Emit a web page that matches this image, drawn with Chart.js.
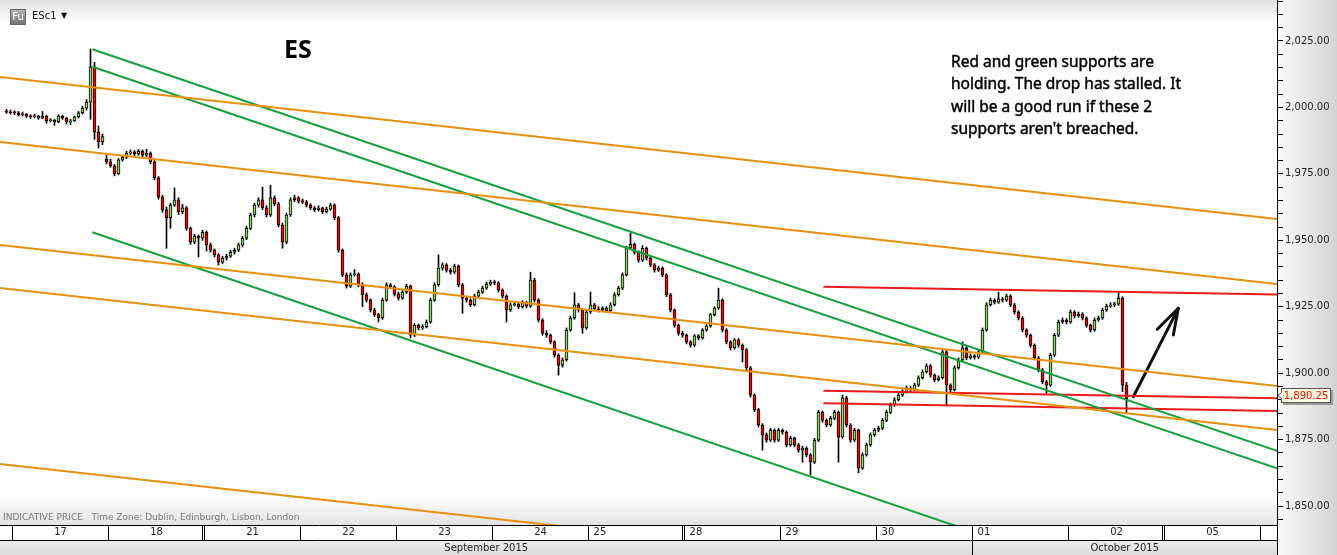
<!DOCTYPE html>
<html><head><meta charset="utf-8">
<script src="https://cdn.jsdelivr.net/npm/chart.js@4.4.0/dist/chart.umd.min.js"></script>
<style>html,body{margin:0;padding:0;background:#fff;overflow:hidden}canvas{display:block}</style>
</head><body>
<canvas id="c" width="1337" height="555" style="width:1337px;height:555px"></canvas>
<script>
// ---------- axis labels ----------
const dayLabels = ['17','18','21','22','23','24','25','28','29','30','01','02','05'];
const leftAlignedDays = ['25','28','29','30','01'];
const weekendBreaks = [2, 7, 12];
const monthLabels = ['September 2015', 'October 2015'];
const monthStartDay = 10;            // column index of Oct 01
const yLabelStep = 25, yMinorStep = 5;
const firstSlot = 22;                // first bar = Sep 16, 22:00 (hourly bars)
const slotsPerDay = 24;

// ---------- hourly OHLC (ESc1) ----------
const open = [
 1998.5,1998.25,
 1998.25,1998.0,1997.25,1997.5,1996.75,1996.5,1996.75,1996.0,1996.75,1995.0,1995.25,1994.5,1996.75,1996.0,1994.5,1995.0,1996.5,1998.0,1999.75,2002.0,2015.25,1990.75,1987.0,1980.5,
 1979.5,1978.0,1975.0,1980.25,1981.25,1982.75,1983.25,1982.5,1983.5,1982.0,1982.75,1979.5,1973.5,1966.25,1961.5,1958.5,1963.25,1965.25,1960.75,1962.25,1954.5,1949.25,1951.5,1950.75,
 1953.0,1948.25,1946.25,1944.5,1941.75,1943.25,1944.0,1945.5,1946.25,1948.25,1950.75,1954.5,1959.5,1963.25,1965.25,1962.25,1959.5,1966.0,1963.75,1955.75,1949.25,1959.5,1965.25,1966.0,
 1964.75,1964.5,1963.25,1962.25,1961.5,1962.25,1960.75,1961.75,1963.25,1958.5,1946.25,1937.0,1932.75,1937.0,1937.25,1933.25,1929.5,1927.5,1923.75,1922.0,1920.75,1927.5,1933.25,1932.5,
 1929.75,1928.25,1930.5,1932.75,1914.25,1918.0,1917.0,1917.5,1919.25,1927.5,1933.25,1939.5,1940.75,1938.75,1938.0,1940.25,1933.25,1928.25,1927.5,1925.75,1929.0,1930.5,1932.0,1933.5,
 1934.25,1934.0,1931.25,1929.0,1923.75,1925.75,1926.0,1925.0,1926.5,1925.25,1935.0,1927.5,1920.0,1915.0,1914.25,1911.75,1906.75,1903.0,1905.0,1916.25,1920.75,1925.75,1923.75,1917.0,
 1923.0,1925.75,1924.25,1923.75,1924.5,1923.5,1925.75,1929.5,1932.0,1937.0,1947.0,1948.5,1945.5,1942.5,1947.0,1943.25,1940.75,1938.75,1939.5,1937.0,1929.5,1923.75,1918.0,1915.0,
 1914.25,1911.75,1910.5,1914.0,1913.25,1916.25,1917.75,1922.0,1924.5,1927.5,1916.25,1911.75,1909.5,1912.5,1910.5,1908.75,1902.0,1891.75,1886.25,1880.5,1876.75,1874.75,1878.5,1874.75,
 1878.5,1877.75,1873.0,1875.5,1873.0,1871.0,1871.75,1869.25,1866.5,1874.75,1885.25,1882.25,1880.5,1883.0,1885.25,1876.0,1890.75,1880.5,1874.75,1878.5,1864.25,1869.25,1873.0,1876.75,
 1878.5,1879.25,1882.25,1885.25,1888.0,1890.0,1891.75,1893.0,1894.5,1893.75,1895.5,1898.25,1900.5,1902.75,1899.25,1897.5,1898.25,1908.0,1895.5,1893.75,1902.0,1905.0,1909.5,1905.75,
 1906.5,1906.0,1908.0,1916.25,1925.75,1927.5,1926.75,1928.0,1927.5,1929.0,1925.75,1923.0,1920.75,1916.25,1914.25,1910.5,1905.75,1901.25,1896.75,1895.5,1906.75,1914.25,1919.25,1920.0,
 1919.25,1923.0,1921.5,1922.25,1920.75,1918.0,1916.25,1920.0,1920.75,1923.75,1925.25,1925.75,1926.0,1928.25,1895.5
];
const high = [
 1999.25,1999.0,
 1998.75,1998.5,1998.25,1997.75,1997.25,1997.5,1997.0,1998.5,1997.0,1995.75,1995.5,1997.25,1997.0,1996.25,1995.5,1996.75,1998.5,2000.5,2003.0,2022.0,2017.0,1993.0,1990.0,1982.0,
 1980.5,1978.5,1980.75,1981.75,1983.5,1984.0,1983.75,1984.25,1984.0,1984.25,1983.25,1980.0,1974.0,1967.0,1962.5,1964.0,1969.75,1966.0,1963.5,1962.75,1955.0,1952.25,1952.0,1953.75,
 1953.5,1949.0,1946.75,1945.0,1944.0,1944.75,1946.25,1947.0,1949.0,1951.5,1955.25,1960.25,1964.0,1966.0,1970.0,1963.0,1970.75,1966.75,1964.25,1956.5,1960.25,1966.0,1967.0,1966.5,
 1965.5,1965.0,1963.75,1962.75,1963.0,1962.5,1962.5,1964.0,1963.75,1959.0,1946.75,1937.75,1937.75,1939.0,1937.75,1934.0,1930.25,1928.0,1924.5,1922.5,1928.25,1934.0,1933.75,1933.0,
 1930.5,1931.25,1933.5,1933.25,1918.75,1918.5,1918.25,1920.0,1928.25,1934.0,1944.5,1941.5,1941.25,1939.5,1941.0,1940.75,1933.75,1929.0,1928.0,1929.75,1931.25,1932.75,1934.25,1935.0,
 1935.0,1934.5,1931.75,1929.5,1926.5,1927.0,1926.5,1927.25,1927.0,1938.0,1935.75,1928.0,1920.5,1916.0,1914.75,1912.25,1907.25,1905.75,1917.0,1921.5,1930.25,1926.25,1924.25,1923.75,
 1930.5,1926.25,1925.0,1925.0,1925.0,1926.5,1930.25,1932.75,1937.75,1947.75,1952.75,1949.0,1946.0,1948.0,1947.5,1943.75,1941.25,1940.25,1940.0,1937.5,1930.0,1924.25,1918.5,1915.75,
 1914.75,1912.25,1914.5,1914.5,1916.75,1918.25,1922.5,1925.0,1932.0,1928.0,1916.75,1912.25,1913.0,1913.0,1911.0,1909.25,1902.5,1892.25,1886.75,1881.0,1877.5,1879.25,1879.0,1879.25,
 1879.0,1878.25,1876.25,1876.0,1873.5,1872.5,1872.25,1869.75,1875.5,1886.0,1885.75,1882.75,1883.75,1886.0,1885.75,1891.75,1891.25,1881.0,1879.25,1879.0,1870.0,1873.75,1877.5,1879.25,
 1880.0,1883.0,1886.0,1888.75,1890.75,1892.5,1893.75,1895.25,1895.0,1896.25,1899.0,1901.25,1903.5,1903.25,1899.75,1899.0,1908.75,1908.5,1896.0,1902.75,1905.75,1911.75,1910.0,1907.25,
 1907.0,1908.75,1917.0,1926.5,1928.25,1928.0,1930.5,1928.5,1929.75,1929.5,1926.25,1923.5,1921.25,1916.75,1914.75,1911.0,1906.25,1901.75,1897.25,1907.5,1915.0,1920.0,1920.75,1920.5,
 1923.75,1923.5,1923.0,1922.75,1921.25,1918.5,1920.75,1921.5,1924.5,1926.0,1926.5,1926.75,1930.25,1928.75,1896.5
];
const low = [
 1997.75,1997.5,
 1997.25,1996.75,1996.75,1996.25,1995.75,1996.0,1995.5,1995.75,1994.0,1994.5,1993.25,1994.25,1995.5,1993.75,1993.5,1994.75,1996.0,1997.5,1999.0,1995.5,1988.0,1984.75,1986.0,1978.75,
 1977.5,1974.25,1974.75,1979.75,1980.75,1982.25,1981.75,1982.0,1981.5,1981.5,1978.75,1972.75,1965.5,1960.5,1947.0,1954.5,1962.75,1959.75,1960.0,1953.75,1948.5,1948.75,1943.75,1950.0,
 1946.0,1945.5,1943.75,1940.75,1941.25,1942.5,1943.5,1944.75,1945.75,1947.5,1950.25,1954.0,1958.75,1962.5,1961.5,1958.75,1959.0,1963.0,1955.0,1947.0,1948.75,1959.0,1964.5,1964.0,
 1963.75,1962.5,1961.5,1960.75,1961.0,1960.0,1960.25,1961.25,1957.75,1945.5,1936.25,1932.0,1932.25,1936.5,1932.5,1925.0,1926.75,1923.0,1921.25,1919.25,1920.25,1927.0,1931.75,1929.0,
 1927.5,1927.75,1930.0,1913.25,1913.75,1916.25,1916.5,1917.0,1918.75,1927.0,1932.75,1938.75,1938.0,1937.25,1937.5,1932.5,1922.5,1926.75,1925.0,1925.25,1928.5,1930.0,1931.5,1933.0,
 1933.25,1930.5,1928.25,1919.25,1923.25,1925.25,1924.25,1924.5,1924.5,1924.75,1926.75,1919.25,1914.25,1913.5,1911.0,1906.0,1899.25,1902.25,1904.5,1915.75,1920.25,1923.0,1915.0,1916.5,
 1922.5,1923.5,1923.0,1923.25,1922.75,1923.0,1925.25,1929.0,1931.5,1936.5,1946.5,1944.75,1941.75,1942.0,1942.5,1940.0,1938.0,1938.25,1936.25,1928.75,1923.0,1917.25,1914.25,1913.5,
 1911.0,1909.75,1910.0,1912.5,1912.75,1915.75,1917.25,1921.5,1924.0,1915.5,1911.0,1908.75,1909.0,1909.75,1904.25,1901.25,1891.0,1885.5,1879.75,1871.0,1874.0,1874.25,1874.0,1874.25,
 1877.0,1872.25,1872.5,1872.25,1870.25,1866.5,1868.5,1861.75,1866.0,1874.25,1881.5,1879.75,1880.0,1882.5,1866.5,1875.5,1879.75,1874.0,1874.25,1862.5,1863.75,1868.75,1872.5,1876.25,
 1878.0,1878.75,1881.75,1884.75,1887.5,1889.5,1891.25,1892.5,1893.0,1893.25,1895.0,1897.75,1900.0,1898.5,1896.75,1897.0,1897.75,1888.0,1893.0,1893.25,1901.5,1904.5,1905.0,1905.25,
 1905.25,1905.5,1907.5,1915.75,1925.25,1926.0,1926.25,1926.75,1927.0,1925.0,1922.25,1920.0,1915.5,1913.5,1909.75,1905.0,1900.5,1896.0,1892.5,1895.0,1906.25,1913.75,1918.75,1918.5,
 1918.75,1920.75,1921.0,1920.0,1917.25,1915.5,1915.75,1919.5,1920.25,1923.25,1924.75,1925.0,1925.5,1893.0,1885.0
];
const close = [
 1998.25,1998.0,
 1998.0,1997.25,1997.5,1996.75,1996.5,1996.75,1996.0,1996.75,1995.0,1995.25,1994.5,1996.75,1996.0,1994.5,1995.0,1996.5,1998.0,1999.75,2002.0,2015.25,1990.75,1987.0,1989.0,1979.5,
 1978.0,1975.0,1980.25,1981.25,1982.75,1983.25,1982.5,1983.5,1982.0,1982.75,1979.5,1973.5,1966.25,1961.5,1958.5,1963.25,1965.25,1960.75,1962.25,1954.5,1949.25,1951.5,1950.75,1953.0,
 1948.25,1946.25,1944.5,1941.75,1943.25,1944.0,1945.5,1946.25,1948.25,1950.75,1954.5,1959.5,1963.25,1965.25,1962.25,1959.5,1966.0,1963.75,1955.75,1949.25,1959.5,1965.25,1966.0,1964.75,
 1964.5,1963.25,1962.25,1961.5,1962.25,1960.75,1961.75,1963.25,1958.5,1946.25,1937.0,1932.75,1937.0,1937.25,1933.25,1929.5,1927.5,1923.75,1922.0,1920.75,1927.5,1933.25,1932.5,1929.75,
 1928.25,1930.5,1932.75,1914.25,1918.0,1917.0,1917.5,1919.25,1927.5,1933.25,1939.5,1940.75,1938.75,1938.0,1940.25,1933.25,1928.25,1927.5,1925.75,1929.0,1930.5,1932.0,1933.5,1934.25,
 1934.0,1931.25,1929.0,1923.75,1925.75,1926.0,1925.0,1926.5,1925.25,1935.0,1927.5,1920.0,1915.0,1914.25,1911.75,1906.75,1903.0,1905.0,1916.25,1920.75,1925.75,1923.75,1917.0,1923.0,
 1925.75,1924.25,1923.75,1924.5,1923.5,1925.75,1929.5,1932.0,1937.0,1947.0,1948.5,1945.5,1942.5,1947.0,1943.25,1940.75,1938.75,1939.5,1937.0,1929.5,1923.75,1918.0,1915.0,1914.25,
 1911.75,1910.5,1914.0,1913.25,1916.25,1917.75,1922.0,1924.5,1927.5,1916.25,1911.75,1909.5,1912.5,1910.5,1908.75,1902.0,1891.75,1886.25,1880.5,1876.75,1874.75,1878.5,1874.75,1878.5,
 1877.75,1873.0,1875.5,1873.0,1871.0,1871.75,1869.25,1866.5,1874.75,1885.25,1882.25,1880.5,1883.0,1885.25,1876.0,1890.75,1880.5,1874.75,1878.5,1864.25,1869.25,1873.0,1876.75,1878.5,
 1879.25,1882.25,1885.25,1888.0,1890.0,1891.75,1893.0,1894.5,1893.75,1895.5,1898.25,1900.5,1902.75,1899.25,1897.5,1898.25,1908.0,1895.5,1893.75,1902.0,1905.0,1909.5,1905.75,1906.5,
 1906.0,1908.0,1916.25,1925.75,1927.5,1926.75,1928.0,1927.5,1929.0,1925.75,1923.0,1920.75,1916.25,1914.25,1910.5,1905.75,1901.25,1896.75,1895.5,1906.75,1914.25,1919.25,1920.0,1919.25,
 1923.0,1921.5,1922.25,1920.75,1918.0,1916.25,1920.0,1920.75,1923.75,1925.25,1925.75,1926.0,1928.25,1895.5,1890.25
];

// ---------- drawn trend lines: [day, price] ----------
const X_MIN = -0.130208, X_MAX = 13.171875;
const Y_MIN = 1842.85, Y_MAX = 2040.43;
const orangeLines = [[2011.45,1958.0],[1986.99,1933.55],[1948.22,1895.16],[1932.04,1878.6],[1865.8,1812.6]];
const greenStartDay = 0.83125;
const greenLines = [[2021.88,1870.73],[2015.33,1864.19],[1953.0,1801.4]];
const redStartDay = 8.4458;
const redLines = [[1932.53,1929.63],[1893.39,1890.57],[1888.65,1885.75]];
const arrowShaft = [[11.675,1891.13],[12.144,1924.4]];
const arrowHead = [[11.925,1916.5],[12.144,1924.4],[12.092,1914.35]];

const annotation = ['Red and green supports are','holding. The drop has stalled. It','will be a good run if these 2',"supports aren't breached."];

// ---------- build datasets ----------
const UP = '#93d862', DOWN = '#ff0000';
const ORANGE = '#e8900e', GREEN = '#17a03c', RED = '#ee1a1a';
const n = Math.min(open.length, high.length, low.length, close.length);
const wickData = [], bodyData = [], bodyColors = [];
for (let i = 0; i < n; i++) {
  const x = (i + firstSlot + 0.5) / slotsPerDay - 1;
  wickData.push({x, y: [low[i], high[i]]});
  bodyData.push({x, y: [Math.min(open[i], close[i]), Math.max(open[i], close[i])]});
  bodyColors.push(close[i] >= open[i] ? UP : DOWN);
}
function seg(points, color, width, extra) {
  return Object.assign({type: 'line', data: points.map(p => ({x: p[0], y: p[1]})),
    borderColor: color, borderWidth: width, pointRadius: 0, fill: false, tension: 0,
    order: 0, xAxisID: 'x', yAxisID: 'y'}, extra || {});
}
const lineSets = [];
orangeLines.forEach(l => lineSets.push(seg([[X_MIN, l[0]], [X_MAX, l[1]]], ORANGE, 2)));
greenLines.forEach(l => lineSets.push(seg([[greenStartDay, l[0]], [X_MAX, l[1]]], GREEN, 2)));
redLines.forEach(l => lineSets.push(seg([[redStartDay, l[0]], [X_MAX, l[1]]], RED, 2)));
lineSets.push(seg(arrowShaft, '#111', 3, {borderCapStyle: 'round'}));
lineSets.push(seg(arrowHead, '#111', 3, {borderCapStyle: 'round', borderJoinStyle: 'round'}));

// ticks
const dateTicks = [];
for (let d = 0; d <= dayLabels.length; d++) dateTicks.push(d);
weekendBreaks.forEach(d => dateTicks.push(d - 0.025));
dateTicks.sort((a, b) => a - b);
const yTicks = [];
for (let v = Math.ceil(Y_MIN / yMinorStep) * yMinorStep; v <= Y_MAX; v += yMinorStep) yTicks.push(v);
const monthTicks = [(X_MIN + monthStartDay) / 2, monthStartDay, (monthStartDay + X_MAX) / 2];
const fmt = v => v.toLocaleString('en-US', {minimumFractionDigits: 2, maximumFractionDigits: 2});
const AX_FONT = {family: 'DejaVu Sans', size: 10};

const decor = {
  id: 'decor',
  beforeDraw(chart) {
    const {ctx, chartArea: a} = chart;
    const W = chart.width, H = chart.height;
    ctx.save();
    ctx.fillStyle = '#fff'; ctx.fillRect(0, 0, W, H);
    let g = ctx.createLinearGradient(0, 0, 0, 24);
    g.addColorStop(0, '#e3e3e3'); g.addColorStop(1, '#ffffff');
    ctx.fillStyle = g; ctx.fillRect(a.left, 0, a.right - a.left, 24);
    g = ctx.createLinearGradient(0, a.bottom - 28, 0, a.bottom);
    g.addColorStop(0, '#ffffff'); g.addColorStop(1, '#e3e3e3');
    ctx.fillStyle = g; ctx.fillRect(a.left, a.bottom - 28, a.right - a.left, 28);
    const xm = chart.scales.xm;
    g = ctx.createLinearGradient(0, xm.top, 0, xm.bottom);
    g.addColorStop(0, '#eeeeee'); g.addColorStop(1, '#dadada');
    ctx.fillStyle = g; ctx.fillRect(0, xm.top, a.right, xm.bottom - xm.top);
    g = ctx.createLinearGradient(a.right, 0, W, 0);
    g.addColorStop(0, '#fbfbfb'); g.addColorStop(1, '#d3d3d3');
    ctx.fillStyle = g; ctx.fillRect(a.right, 0, W - a.right, H);
    ctx.restore();
  },
  afterDraw(chart) {
    const {ctx, chartArea: a} = chart;
    ctx.save();
    ctx.strokeStyle = '#000'; ctx.lineWidth = 1;
    ctx.beginPath(); ctx.moveTo(Math.round(a.right) + 0.5, a.bottom); ctx.lineTo(Math.round(a.right) + 0.5, chart.height); ctx.stroke();
    let g = ctx.createLinearGradient(0, 9, 0, 25);
    g.addColorStop(0, '#b4b4b4'); g.addColorStop(1, '#707070');
    ctx.fillStyle = g; ctx.fillRect(10.5, 9.5, 15, 15);
    ctx.strokeStyle = '#666'; ctx.strokeRect(10.5, 9.5, 15, 15);
    ctx.fillStyle = '#fff'; ctx.font = '10px "DejaVu Sans"'; ctx.textAlign = 'center'; ctx.textBaseline = 'middle';
    ctx.fillText('Fu', 18, 17);
    ctx.fillStyle = '#111'; ctx.textAlign = 'left';
    ctx.fillText('ESc1', 32, 16.5);
    ctx.font = '8px "DejaVu Sans"'; ctx.fillText('\u25BC', 61, 16);
    ctx.font = 'bold 25px "Noto Sans"'; ctx.textBaseline = 'alphabetic'; ctx.fillStyle = '#000';
    ctx.fillText('ES', 284, 58);
    ctx.font = '15.5px "Noto Sans"'; ctx.fillStyle = '#000'; ctx.strokeStyle = '#000'; ctx.lineWidth = 0.45;
    annotation.forEach((t, i) => { ctx.fillText(t, 951, 67 + i * 22.4); ctx.strokeText(t, 951, 67 + i * 22.4); });
    ctx.lineWidth = 1;
    ctx.font = '9px "DejaVu Sans"'; ctx.fillStyle = '#777'; ctx.textBaseline = 'middle';
    ctx.fillText('INDICATIVE PRICE   Time Zone: Dublin, Edinburgh, Lisbon, London', 3, 518);
    const last = close[n - 1];
    const py = chart.scales.y.getPixelForValue(last);
    const bx = Math.round(a.right) + 4, bw = 50, bh = 15, by = Math.round(py) - 11;
    ctx.fillStyle = '#9c9c9c'; ctx.fillRect(bx + 2, by + 2, bw, bh);
    ctx.fillStyle = '#ffffe1'; ctx.fillRect(bx, by, bw, bh);
    ctx.strokeStyle = '#555'; ctx.strokeRect(bx + 0.5, by + 0.5, bw - 1, bh - 1);
    ctx.fillStyle = '#ffffe1'; ctx.beginPath(); ctx.moveTo(bx - 3, by + bh / 2); ctx.lineTo(bx + 1, by + bh / 2 - 3); ctx.lineTo(bx + 1, by + bh / 2 + 3); ctx.closePath(); ctx.fill();
    ctx.strokeStyle = '#555'; ctx.beginPath(); ctx.moveTo(bx + 0.5, by + bh / 2 - 3); ctx.lineTo(bx - 3, by + bh / 2); ctx.lineTo(bx + 0.5, by + bh / 2 + 3); ctx.stroke();
    ctx.fillStyle = '#ff0000'; ctx.font = '10px "DejaVu Sans"'; ctx.textAlign = 'center'; ctx.textBaseline = 'middle';
    ctx.fillText(fmt(last), bx + bw / 2, by + bh / 2 + 0.5);
    ctx.restore();
  }
};

new Chart(document.getElementById('c'), {
  type: 'bar',
  data: {
    datasets: [
      ...lineSets,
      {type: 'bar', data: bodyData, backgroundColor: bodyColors, borderColor: '#000', borderWidth: 1, borderSkipped: false,
       barThickness: 3, grouped: false, minBarLength: 1, order: 1, xAxisID: 'x', yAxisID: 'y'},
      {type: 'bar', data: wickData, backgroundColor: '#000', borderWidth: 0, barThickness: 1, grouped: false,
       order: 2, xAxisID: 'x', yAxisID: 'y'}
    ]
  },
  options: {
    responsive: false, animation: false, devicePixelRatio: 1, events: [],
    layout: {padding: 0},
    plugins: {legend: {display: false}, tooltip: {enabled: false}},
    scales: {
      x: {
        type: 'linear', position: 'bottom', min: X_MIN, max: X_MAX, bounds: 'data', weight: 1, offset: false,
        afterBuildTicks: s => { s.ticks = dateTicks.map(v => ({value: v})); },
        afterFit: s => { s.height = 15; s.paddingLeft = 0; s.paddingRight = 0; },
        grid: {offset: false, drawOnChartArea: false, drawTicks: true, tickLength: 15, color: '#000', lineWidth: 1},
        border: {display: true, color: '#000', width: 1},
        ticks: {
          autoSkip: false, maxRotation: 0, minRotation: 0, labelOffset: 48, padding: -14,
          color: '#222', font: AX_FONT,
          callback: v => {
            if (!Number.isInteger(v) || v >= dayLabels.length) return '';
            const t = dayLabels[v];
            return leftAlignedDays.includes(t) ? t + '\u00a0'.repeat(23) : t;
          }
        }
      },
      xm: {
        type: 'linear', position: 'bottom', min: X_MIN, max: X_MAX, bounds: 'data', weight: 2, offset: false,
        afterBuildTicks: s => { s.ticks = monthTicks.map(v => ({value: v})); },
        afterFit: s => { s.height = 15; s.paddingLeft = 0; s.paddingRight = 0; },
        grid: {offset: false, drawOnChartArea: false, drawTicks: true, tickLength: 15,
          color: c => (c.tick && c.tick.value === monthStartDay) ? '#000' : 'rgba(0,0,0,0)'},
        border: {display: true, color: '#000', width: 1},
        ticks: {
          autoSkip: false, maxRotation: 0, minRotation: 0, padding: -13, color: '#222', font: AX_FONT,
          callback: v => v === monthTicks[0] ? monthLabels[0] : (v === monthTicks[2] ? monthLabels[1] : '')
        }
      },
      y: {
        type: 'linear', position: 'right', min: Y_MIN, max: Y_MAX, bounds: 'data',
        afterBuildTicks: s => { s.ticks = yTicks.map(v => ({value: v})); },
        afterFit: s => { s.width = 60; s.paddingTop = 0; s.paddingBottom = 0; },
        grid: {drawOnChartArea: false, drawTicks: true, tickLength: 6, color: '#000'},
        border: {display: true, color: '#000', width: 1},
        ticks: {autoSkip: false, padding: 2, color: '#222', font: AX_FONT,
          callback: v => (v % yLabelStep === 0) ? fmt(v) : ''}
      }
    }
  },
  plugins: [decor]
});
</script>
</body></html>
